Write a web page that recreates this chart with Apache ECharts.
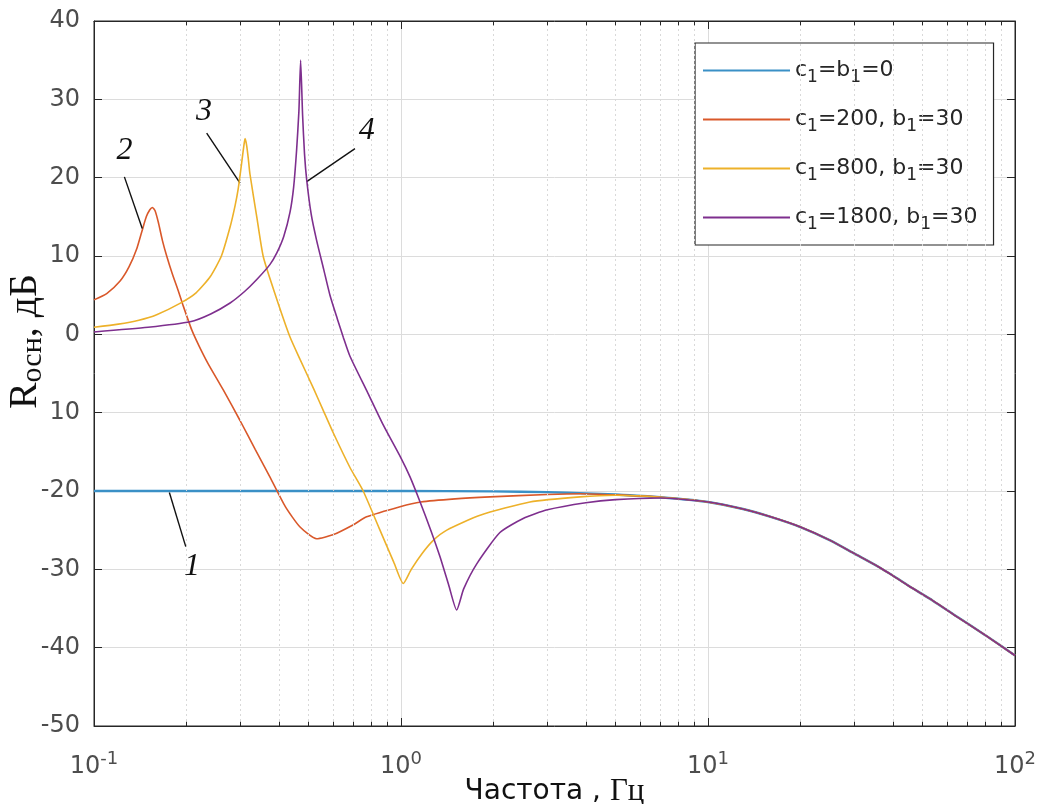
<!DOCTYPE html>
<html>
<head>
<meta charset="utf-8">
<script src="https://cdn.jsdelivr.net/npm/echarts@6/dist/echarts.min.js"></script>
<style>
html, body { margin: 0; padding: 0; background: #fff; }
#chart { width: 1044px; height: 804px; }
</style>
</head>
<body>
<div id="chart"></div>
<script>
// values (frequency in Hz, level in dB)
const seriesNames = ['c1=b1=0', 'c1=200, b1=30', 'c1=800, b1=30', 'c1=1800, b1=30']
const legendLabels = [
  'c{sub|1}=b{sub|1}=0',
  'c{sub|1}=200, b{sub|1}=30',
  'c{sub|1}=800, b{sub|1}=30',
  'c{sub|1}=1800, b{sub|1}=30'
]
const colors = ['#3a90c6', '#d9582a', '#edb12a', '#7e2f8e']

// common tail above 10 Hz (all curves coincide there)
const fTail = [13, 16, 20, 25, 30, 36, 40, 45, 54, 65, 80, 100]
const rTail = [-22.3, -23.3, -24.6, -26.3, -28.0, -29.7, -30.8, -32.1, -34.0, -36.1, -38.4, -41.0]

const f1 = [0.1, 0.3, 1, 2, 3, 4, 5, 7, 10]
const r1 = [-20, -20, -20, -20.05, -20.15, -20.3, -20.45, -20.8, -21.4]

const f2 = [0.1, 0.11, 0.1216, 0.13, 0.138, 0.1436, 0.148, 0.152, 0.155, 0.158, 0.162, 0.167, 0.1725, 0.18, 0.188,
  0.1954, 0.208, 0.22, 0.235, 0.2637, 0.299, 0.335, 0.374, 0.42, 0.469, 0.531, 0.6, 0.7, 0.773, 0.993, 1.16, 1.5,
  1.95, 3, 3.83, 5, 7, 10]
const r2 = [4.4, 5.2, 6.8, 8.6, 11.0, 13.3, 15.0, 15.9, 16.2, 15.8, 14.3, 12.0, 10.0, 7.7, 5.6,
  3.6, 0.6, -1.5, -3.7, -7.1, -11.0, -14.7, -18.2, -22.0, -24.6, -26.1, -25.6, -24.3, -23.3, -22.0, -21.4, -21.0,
  -20.75, -20.45, -20.35, -20.5, -20.8, -21.4]

const f3 = [0.1, 0.12, 0.14, 0.16, 0.1905, 0.215, 0.239, 0.26, 0.2775, 0.288, 0.295, 0.3025, 0.3075, 0.3105, 0.314,
  0.318, 0.322, 0.339, 0.356, 0.39, 0.435, 0.469, 0.52, 0.558, 0.602, 0.682, 0.753, 0.85, 0.95, 1.017, 1.08, 1.17,
  1.274, 1.41, 1.81, 2.63, 3.83, 5, 7, 10]
const r3 = [0.9, 1.3, 1.8, 2.5, 3.95, 5.3, 7.35, 10.0, 13.7, 16.4, 18.6, 21.8, 24.0, 25.0, 24.2,
  22.5, 20.5, 15.0, 9.9, 5.0, -0.35, -3.2, -7.0, -9.7, -12.6, -17.0, -20.0, -24.8, -29.2, -31.8, -30.0, -28.0,
  -26.3, -25.0, -23.1, -21.4, -20.75, -20.55, -20.8, -21.4]

const f4 = [0.1, 0.15, 0.2056, 0.24, 0.2775, 0.31, 0.339, 0.374, 0.394, 0.415, 0.435, 0.447, 0.457, 0.465, 0.471,
  0.478, 0.485, 0.493, 0.51, 0.531, 0.56, 0.587, 0.62, 0.649, 0.682, 0.78, 0.876, 1.0, 1.07, 1.154, 1.25, 1.34, 1.43,
  1.518, 1.6, 1.765, 2.1, 2.5, 3.0, 4.0, 5, 7, 10]
const r4 = [0.3, 0.9, 1.6, 2.6, 4.0, 5.5, 7.0, 8.9, 10.4, 12.5, 15.6, 18.8, 23.5, 28.5, 35.0,
  28.0, 23.0, 19.7, 15.3, 12.0, 8.3, 5.0, 2.0, -0.4, -2.8, -7.5, -11.6, -15.8, -18.2, -21.4, -25.0, -28.4, -32.0,
  -35.2, -32.5, -29.3, -25.3, -23.5, -22.4, -21.5, -21.1, -20.9, -21.4]

const yTickLabels = ['-50', '-40', '-30', '-20', '10', '0', '10', '20', '30', '40']
const minorX = [0.2, 0.3, 0.4, 0.5, 0.6, 0.7, 0.8, 0.9, 2, 3, 4, 5, 6, 7, 8, 9, 20, 30, 40, 50, 60, 70, 80, 90]

// curve numbers and their leader lines: [text, labelX, labelY, fromX, fromY, toX, toY]
const notes = [
  ['1', 0.2086, -29.7, 0.176, -20.2, 0.199, -27.1],
  ['2', 0.1257, 23.5, 0.1256, 20.1, 0.1436, 13.5],
  ['3', 0.228, 28.4, 0.2328, 25.7, 0.299, 19.3],
  ['4', 0.774, 26.0, 0.708, 23.7, 0.493, 19.5]
]

const zip = (xs, ys) => xs.map((x, i) => [x, ys[i]])
const curves = [
  zip(f1.concat(fTail), r1.concat(rTail)),
  zip(f2.concat(fTail), r2.concat(rTail)),
  zip(f3.concat(fTail), r3.concat(rTail)),
  zip(f4.concat(fTail), r4.concat(rTail))
]

const sans = 'DejaVu Sans'
const serif = 'Liberation Serif'
const tickColor = '#4d4d4d'
const axisColor = '#262626'

let chart = echarts.init(document.getElementById('chart'))

let option = {
  backgroundColor: '#fff',
  animation: false,
  grid: {
    left: 94,
    right: 29,
    top: 21,
    bottom: 78,
    outerBoundsMode: 'none',
    containLabel: false,
    show: true,
    borderColor: axisColor,
    borderWidth: 1
  },
  legend: {
    data: seriesNames,
    orient: 'vertical',
    left: 695,
    top: 43,
    icon: 'rect',
    itemWidth: 87,
    itemHeight: 2,
    itemGap: 18,
    padding: [12, 16, 12, 8],
    backgroundColor: '#fff',
    borderColor: axisColor,
    borderWidth: 1.2,
    borderRadius: 0,
    formatter: name => legendLabels[seriesNames.indexOf(name)],
    textStyle: {
      fontFamily: sans,
      fontSize: 22,
      color: axisColor,
      rich: {
        sub: { fontFamily: sans, fontSize: 17, lineHeight: 17, verticalAlign: 'bottom', color: axisColor }
      },
      lineHeight: 31
    }
  },
  xAxis: [
    {
      type: 'log',
      logBase: 10,
      min: 0.1,
      max: 100,
      name: '{a|Частота , }{b|Гц}',
      nameLocation: 'middle',
      nameGap: 50,
      nameMoveOverlap: false,
      nameTextStyle: {
        verticalAlign: 'top',
        rich: {
          a: { fontFamily: sans, fontSize: 28, color: '#111' },
          b: { fontFamily: serif, fontSize: 31, color: '#111' }
        }
      },
      axisLine: { show: true, onZero: false, lineStyle: { color: axisColor } },
      axisTick: { show: true, inside: true, length: 8, lineStyle: { color: axisColor } },
      axisLabel: {
        margin: 24,
        formatter: v => '{n|10}{sup|' + Math.round(Math.log10(v)) + '}',
        rich: {
          n: { fontFamily: sans, fontSize: 24, lineHeight: 34, color: tickColor },
          sup: { fontFamily: sans, fontSize: 18, lineHeight: 19, verticalAlign: 'top', color: tickColor }
        }
      },
      splitLine: { show: true, lineStyle: { color: '#dcdcdc', width: 1 } }
    },
    {
      type: 'log',
      logBase: 10,
      min: 0.1,
      max: 100,
      position: 'top',
      axisLine: { show: true, onZero: false, lineStyle: { color: axisColor } },
      axisTick: { show: true, inside: true, length: 8, lineStyle: { color: axisColor } },
      axisLabel: { show: false },
      splitLine: { show: false }
    }
  ],
  yAxis: [
    {
      type: 'value',
      min: -50,
      max: 40,
      interval: 10,
      name: '{r|R}{s|осн}{r|, дБ}',
      nameLocation: 'middle',
      nameGap: 46,
      nameRotate: 90,
      nameMoveOverlap: false,
      nameTextStyle: {
        padding: [0, 0, 0, 64],
        rich: {
          r: { fontFamily: serif, fontSize: 40, lineHeight: 46, color: '#111' },
          s: { fontFamily: serif, fontSize: 30, lineHeight: 30, verticalAlign: 'bottom', color: '#111' }
        }
      },
      axisLine: { show: true, onZero: false, lineStyle: { color: axisColor } },
      axisTick: { show: true, inside: true, length: 8, lineStyle: { color: axisColor } },
      axisLabel: {
        margin: 14,
        fontFamily: sans,
        fontSize: 24,
        color: tickColor,
        formatter: v => yTickLabels[Math.round((v + 50) / 10)]
      },
      splitLine: { show: true, lineStyle: { color: '#dcdcdc', width: 1 } }
    },
    {
      type: 'value',
      min: -50,
      max: 40,
      interval: 10,
      position: 'right',
      axisLine: { show: true, onZero: false, lineStyle: { color: axisColor } },
      axisTick: { show: true, inside: true, length: 8, lineStyle: { color: axisColor } },
      axisLabel: { show: false },
      splitLine: { show: false }
    }
  ],
  series: [
    // minor grid and minor ticks
    {
      name: 'minor',
      type: 'line',
      data: [],
      silent: true,
      markLine: {
        silent: true,
        symbol: 'none',
        label: { show: false },
        lineStyle: { color: '#d9d9d9', type: [2, 3], width: 1 },
        data: minorX.map(v => ({ xAxis: v }))
          .concat(minorX.map(v => [
            { coord: [v, -50], lineStyle: { color: axisColor, type: 'solid' } },
            { coord: [v, -49.45] }
          ]))
          .concat(minorX.map(v => [
            { coord: [v, 40], lineStyle: { color: axisColor, type: 'solid' } },
            { coord: [v, 39.45] }
          ]))
      }
    }
  ].concat(curves.map((d, i) => ({
    name: seriesNames[i],
    type: 'line',
    data: d,
    showSymbol: false,
    symbol: 'none',
    smooth: 0.2,
    color: colors[i],
    lineStyle: { width: i === 0 ? 2.4 : 1.6, color: colors[i] },
    z: 3 + i
  }))).concat([
    {
      name: 'notes',
      type: 'line',
      data: [],
      silent: true,
      z: 10,
      markLine: {
        silent: true,
        symbol: 'none',
        label: { show: false },
        lineStyle: { color: '#111', type: 'solid', width: 1.4 },
        data: notes.map(n => [{ coord: [n[3], n[4]] }, { coord: [n[5], n[6]] }])
      },
      markPoint: {
        silent: true,
        symbol: 'circle',
        symbolSize: 1,
        itemStyle: { color: 'rgba(0,0,0,0)' },
        label: {
          show: true,
          position: 'inside',
          fontFamily: serif,
          fontStyle: 'italic',
          fontSize: 32,
          color: '#111',
          formatter: p => p.name
        },
        data: notes.map(n => ({ name: n[0], coord: [n[1], n[2]] }))
      }
    }
  ])
}

chart.setOption(option)
</script>
</body>
</html>
